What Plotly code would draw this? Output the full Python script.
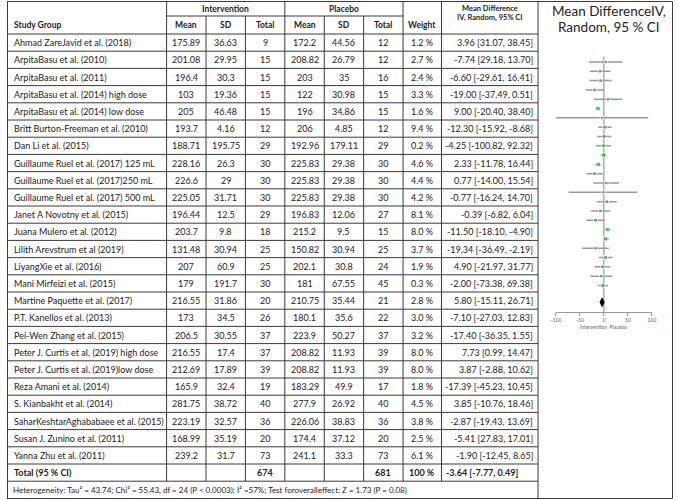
import plotly.graph_objects as go

# ---------------- data ----------------
studies = [
    "Ahmad ZareJavid et al. (2018)",
    "ArpitaBasu et al. (2010)",
    "ArpitaBasu et al. (2011)",
    "ArpitaBasu et al. (2014) high dose",
    "ArpitaBasu et al. (2014) low dose",
    "Britt Burton-Freeman et al. (2010)",
    "Dan Li et al. (2015)",
    "Guillaume Ruel et al. (2017) 125 mL",
    "Guillaume Ruel et al. (2017)250 mL",
    "Guillaume Ruel et al. (2017) 500 mL",
    "Janet A Novotny et al. (2015)",
    "Juana Mulero et al. (2012)",
    "Lilith Arevstrum et al (2019)",
    "LiyangXie et al. (2016)",
    "Mani Mirfeizi et al. (2015)",
    "Martine Paquette et al. (2017)",
    "P.T. Kanellos et al. (2013)",
    "Pei-Wen Zhang et al. (2015)",
    "Peter J. Curtis et al. (2019) high dose",
    "Peter J. Curtis et al. (2019)low dose",
    "Reza Amani et al. (2014)",
    "S. Kianbakht et al. (2014)",
    "SaharKeshtarAghababaee et al. (2015)",
    "Susan J. Zunino et al. (2011)",
    "Yanna Zhu et al. (2011)",
]
int_mean = [175.89, 201.08, 196.4, 103, 205, 193.7, 188.71, 228.16, 226.6, 225.05, 196.44, 203.7, 131.48,
            207, 179, 216.55, 173, 206.5, 216.55, 212.69, 165.9, 281.75, 223.19, 168.99, 239.2]
int_sd = [36.63, 29.95, 30.3, 19.36, 46.48, 4.16, 195.75, 26.3, 29, 31.71, 12.5, 9.8, 30.94,
          60.9, 191.7, 31.86, 34.5, 30.55, 17.4, 17.89, 32.4, 38.72, 32.57, 35.19, 31.7]
int_n = [9, 15, 15, 15, 15, 12, 29, 30, 30, 30, 29, 18, 25, 25, 30, 20, 26, 37, 37, 39, 19, 40, 36, 20, 73]
pla_mean = [172.2, 208.82, 203, 122, 196, 206, 192.96, 225.83, 225.83, 225.83, 196.83, 215.2, 150.82,
            202.1, 181, 210.75, 180.1, 223.9, 208.82, 208.82, 183.29, 277.9, 226.06, 174.4, 241.1]
pla_sd = [44.56, 26.79, 35, 30.98, 34.86, 4.85, 179.11, 29.38, 29.38, 29.38, 12.06, 9.5, 30.94,
          30.8, 67.55, 35.44, 35.6, 50.27, 11.93, 11.93, 49.9, 26.92, 38.83, 37.12, 33.3]
pla_n = [12, 12, 16, 15, 15, 12, 29, 30, 30, 30, 27, 15, 25, 24, 45, 21, 22, 37, 39, 39, 17, 40, 36, 20, 73]
weight = [1.2, 2.7, 2.4, 3.3, 1.6, 9.4, 0.2, 4.6, 4.4, 4.2, 8.1, 8.0, 3.7, 1.9, 0.3, 2.8, 3.0, 3.2,
          8.0, 8.0, 1.8, 4.5, 3.8, 2.5, 6.1]
md_text = [
    "3.96 [31.07, 38.45]", "-7.74 [29.18, 13.70]", "-6.60 [-29.61, 16.41]", "-19.00 [-37.49, 0.51]",
    "9.00 [-20.40, 38.40]", "-12.30 [-15.92, -8.68]", "-4.25 [-100.82, 92.32]", "2.33 [-11.78, 16.44]",
    "0.77 [-14.00, 15.54]", "-0.77 [-16.24, 14.70]", "-0.39 [-6.82, 6.04]", "-11.50 [-18.10, -4.90]",
    "-19,34 [-36.49, -2.19]", "4.90 [-21.97, 31.77]", "-2.00 [-73.38, 69.38]", "5.80 [-15.11, 26.71]",
    "-7.10 [-27.03, 12.83]", "-17.40 [-36.35, 1.55]", "7.73 [0.99, 14.47]", "3.87 [-2.88, 10.62]",
    "-17.39 [-45.23, 10.45]", "3.85 [-10.76, 18.46]", "-2.87 [-19.43, 13.69]", "-5.41 [27.83, 17.01]",
    "-1.90 [-12.45, 8.65]",
]
md = [3.96, -7.74, -6.60, -19.00, 9.00, -12.30, -4.25, 2.33, 0.77, -0.77, -0.39, -11.50, -19.34,
      4.90, -2.00, 5.80, -7.10, -17.40, 7.73, 3.87, -17.39, 3.85, -2.87, -5.41, -1.90]
ci_lo = [-31.07, -29.18, -29.61, -37.49, -20.40, -15.92, -100.82, -11.78, -14.00, -16.24, -6.82, -18.10,
         -36.49, -21.97, -73.38, -15.11, -27.03, -36.35, 0.99, -2.88, -45.23, -10.76, -19.43, -27.83, -12.45]
ci_hi = [38.45, 13.70, 16.41, 0.51, 38.40, -8.68, 92.32, 16.44, 15.54, 14.70, 6.04, -4.90, -2.19,
         31.77, 69.38, 26.71, 12.83, 1.55, 14.47, 10.62, 10.45, 18.46, 13.69, 17.01, 8.65]
total_n_int = 674
total_n_pla = 681
total_md, total_lo, total_hi = -3.64, -7.77, 0.49
total_text = "-3.64 [-7.77, 0.49]"
hetero_text = ("Heterogeneity: Tau\u00b2 = 43.74; Chi\u00b2 = 55.43, df = 24 (P < 0.0003); I\u00b2 =57%; "
               "Test foroveralleffect: Z = 1.73 (P = 0.08)")
x_ticks = [-100, -50, 0, 50, 100]

# ---------------- layout helpers ----------------
W, H = 678, 500
def X(px): return px / W
def Y(py): return 1 - py / H

FONT = "Lato"
TXT = "#222222"
LINE = "#3a3a3a"
FS = 9

fig = go.Figure()
shapes = []
ann = []

def hline(y, x0, x1, w=1, c=LINE):
    shapes.append(dict(type="line", xref="paper", yref="paper", x0=X(x0), x1=X(x1), y0=Y(y), y1=Y(y),
                       line=dict(color=c, width=w)))

def vline(x, y0, y1, w=1, c=LINE):
    shapes.append(dict(type="line", xref="paper", yref="paper", x0=X(x), x1=X(x), y0=Y(y0), y1=Y(y1),
                       line=dict(color=c, width=w)))

def text(s, x, y, anchor="center", size=FS, bold=False, color=TXT, family=FONT):
    if bold:
        s = "<b>" + s + "</b>"
    ann.append(dict(text=s, x=X(x), y=Y(y), xref="paper", yref="paper", xanchor=anchor, yanchor="middle",
                    showarrow=False, font=dict(family=family, size=size, color=color)))

# table geometry
cols = [1, 163, 203, 243, 283, 323, 363, 403, 442, 540]
top, mid, hdr_bot = 1.5, 16, 34
row_h = 17.2
n = len(studies)
data_bot = hdr_bot + n * row_h
tot_bot = data_bot + row_h
bottom = 498.5
right = 676.5

hline(top, 1, right)
hline(mid, 163, 403)
hline(hdr_bot, 1, 540)
for k in range(1, n + 1):
    hline(hdr_bot + k * row_h, 1, 540)
hline(tot_bot, 1, 540)
hline(bottom, 1, right)
vline(1.5, top, bottom)
vline(540, top, bottom)
vline(right, top, bottom)
for c in [163, 283, 403, 442]:
    vline(c, top, tot_bot)
for c in [203, 243, 323, 363]:
    vline(c, mid, tot_bot)

centers = [(cols[i] + cols[i + 1]) / 2 for i in range(len(cols) - 1)]

# headers
text("Intervention", (163 + 283) / 2, 8.5, bold=True, size=8.5)
text("Placebo", (283 + 403) / 2, 8.5, bold=True, size=8.5)
text("Study Group", 6, 25, anchor="left", bold=True, size=8.5)
for lab, cx in zip(["Mean", "SD", "Total", "Mean", "SD", "Total", "Weight"], centers[1:8]):
    text(lab, cx, 25, bold=True, size=8.5)
text("Mean Difference", centers[8], 8, bold=True, size=7.5)
text("IV, Random, 95% CI", centers[8], 17, bold=True, size=7.5)

# rows
for k in range(n):
    yc = hdr_bot + (k + 0.5) * row_h
    text(studies[k], 6, yc, anchor="left")
    vals = [int_mean[k], int_sd[k], int_n[k], pla_mean[k], pla_sd[k], pla_n[k]]
    for v, cx in zip(vals, centers[1:7]):
        text(str(v), cx, yc)
    text(f"{weight[k]:.1f} %", centers[7], yc)
    text(md_text[k], 537, yc, anchor="right")

yt = data_bot + row_h / 2
text("Total (95 % CI)", 6, yt, anchor="left", bold=True)
text(str(total_n_int), centers[3], yt, bold=True)
text(str(total_n_pla), centers[6], yt, bold=True)
text("100 %", centers[7], yt, bold=True)
text(total_text, 445, yt, anchor="left", bold=True)
text(hetero_text, 5, (tot_bot + bottom) / 2, anchor="left", size=8)

# right panel title
text("Mean DifferenceIV,", 612, 11, size=13.5, family="Lato")
text("Random, 95 % CI", 612, 27, size=13.5, family="Lato")

# ---------------- forest plot ----------------
row_idx = list(range(n))
diamond_y = 25.8
ci_x, ci_y = [], []
for i in row_idx:
    ci_x += [ci_lo[i], ci_hi[i], None]
    ci_y += [i, i, None]
fig.add_trace(go.Scatter(x=ci_x, y=ci_y, mode="lines", line=dict(color="#9a9a9a", width=1.5),
                         hoverinfo="skip", showlegend=False, cliponaxis=False))
fig.add_trace(go.Scatter(x=md, y=row_idx, mode="markers",
                         marker=dict(symbol="square", color="#2bb34a", size=[3.2 + w * 0.15 for w in weight]),
                         showlegend=False, cliponaxis=False))
fig.add_trace(go.Scatter(x=[total_lo, total_md, total_hi, total_md, total_lo],
                         y=[diamond_y, diamond_y - 0.45, diamond_y, diamond_y + 0.45, diamond_y],
                         mode="lines", fill="toself", fillcolor="black", line=dict(color="black", width=1),
                         showlegend=False, cliponaxis=False))

y_top_px, y_bot_px = 56, 312
spacing = 9.31
y0_px = 62
yr_top = (y_top_px - y0_px) / spacing
yr_bot = (y_bot_px - y0_px) / spacing
shapes.append(dict(type="line", xref="x", yref="y", x0=0, x1=0, y0=-0.6, y1=yr_bot,
                   line=dict(color="#9a9a9a", width=1.2), layer="below"))

ann.append(dict(text="Intervention  Placebo", x=0, y=Y(327), xref="x", yref="paper", showarrow=False,
                xanchor="center", yanchor="middle", font=dict(family=FONT, size=5, color="#666")))

fig.update_layout(
    width=W, height=H, autosize=False,
    margin=dict(l=0, r=0, t=0, b=0),
    paper_bgcolor="white", plot_bgcolor="white",
    shapes=shapes, annotations=ann,
    xaxis=dict(domain=[X(558), X(655.6)], range=[-100, 100], tickvals=x_ticks,
               showgrid=False, zeroline=False, showline=True, linecolor="#9a9a9a", linewidth=1,
               ticks="outside", ticklen=3, tickcolor="#9a9a9a",
               tickfont=dict(family=FONT, size=5, color="#666"), fixedrange=True),
    yaxis=dict(domain=[Y(y_bot_px), Y(y_top_px)], range=[yr_bot, yr_top], visible=False,
               showgrid=False, zeroline=False, fixedrange=True),
)

fig.write_html("out.html", config={"displayModeBar": False},
               post_script="document.body.style.margin='0';document.body.style.overflow='hidden';")
